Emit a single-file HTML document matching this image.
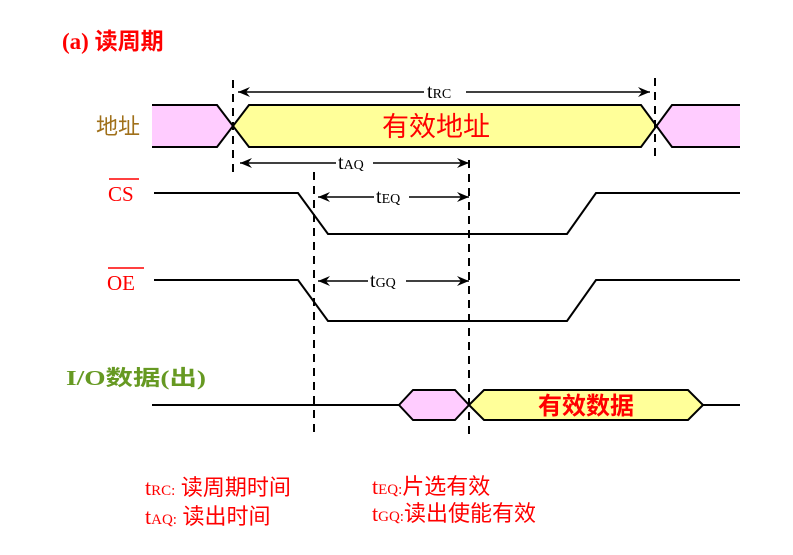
<!DOCTYPE html>
<html><head><meta charset="utf-8"><style>
html,body{margin:0;padding:0;background:#fff;width:793px;height:555px;overflow:hidden}
svg{display:block}
text{font-family:"Liberation Serif","Noto Serif CJK SC","Noto Sans CJK SC",serif}
.cjk{font-family:"Liberation Sans","Noto Sans CJK SC",sans-serif}
</style></head><body>
<svg width="793" height="555" viewBox="0 0 793 555" xmlns="http://www.w3.org/2000/svg">
<defs>
<marker id="ar" viewBox="0 0 12 10" refX="12" refY="5" markerWidth="12" markerHeight="10" orient="auto-start-reverse" markerUnits="userSpaceOnUse">
<path d="M0,0 L12,5 L0,10 L4,5 z" fill="#000"/>
</marker>
</defs>
<text x="62" y="49" font-size="23" font-weight="bold" fill="#ff0000">(a) <tspan class="cjk">读周期</tspan></text>

<polygon points="152,105 217,105 233,126 217,147 152,147" fill="#ffccff"/>
<polygon points="233,126 249,105 641,105 656,126 641,147 249,147" fill="#ffff99"/>
<polygon points="656,126 672,105 740,105 740,147 672,147" fill="#ffccff"/>
<polyline points="152,105 217,105 249,147 641,147 672,105 740,105" fill="none" stroke="#000" stroke-width="2"/>
<polyline points="152,147 217,147 249,105 641,105 672,147 740,147" fill="none" stroke="#000" stroke-width="2"/>
<text x="96" y="134" font-size="22" class="cjk" fill="#a0701a">地址</text>
<text x="436" y="136" font-size="27" class="cjk" fill="#ff0000" text-anchor="middle">有效地址</text>

<g stroke="#000" stroke-width="2" stroke-dasharray="8,6" fill="none">
<line x1="233" y1="80" x2="233" y2="178"/>
<line x1="655" y1="78" x2="655" y2="162"/>
<line x1="314" y1="172" x2="314" y2="432"/>
<line x1="469" y1="160" x2="469" y2="434"/>
</g>

<g stroke="#000" stroke-width="1.5" fill="none">
<line x1="238" y1="92" x2="424" y2="92" marker-start="url(#ar)"/>
<line x1="466" y1="92" x2="650" y2="92" marker-end="url(#ar)"/>
<line x1="240" y1="163" x2="336" y2="163" marker-start="url(#ar)"/>
<line x1="373" y1="163" x2="469" y2="163" marker-end="url(#ar)"/>
<line x1="318" y1="197" x2="374" y2="197" marker-start="url(#ar)"/>
<line x1="409" y1="197" x2="469" y2="197" marker-end="url(#ar)"/>
<line x1="318" y1="281" x2="368" y2="281" marker-start="url(#ar)"/>
<line x1="406" y1="281" x2="469" y2="281" marker-end="url(#ar)"/>
</g>
<text x="427" y="98" font-size="20" fill="#000">t<tspan font-size="14">RC</tspan></text>
<text x="338" y="169" font-size="20" fill="#000">t<tspan font-size="14">AQ</tspan></text>
<text x="376" y="203" font-size="20" fill="#000">t<tspan font-size="14">EQ</tspan></text>
<text x="370" y="287" font-size="20" fill="#000">t<tspan font-size="14">GQ</tspan></text>

<polyline points="154,193 298,193 328,234 567,234 596,193 740,193" fill="none" stroke="#000" stroke-width="2"/>
<polyline points="154,280 298,280 328,321 567,321 596,280 740,280" fill="none" stroke="#000" stroke-width="2"/>
<text x="108" y="201" font-size="21" fill="#ff0000">CS</text>
<line x1="109" y1="179" x2="139" y2="179" stroke="#ff0000" stroke-width="1.5"/>
<text x="107" y="290" font-size="21" fill="#ff0000">OE</text>
<line x1="108" y1="268" x2="144" y2="268" stroke="#ff0000" stroke-width="1.5"/>

<text x="66" y="385" font-size="21" font-weight="bold" fill="#669922" textLength="140" lengthAdjust="spacingAndGlyphs">I/O<tspan class="cjk">数据</tspan>(<tspan class="cjk">出</tspan>)</text>
<polygon points="399,405 413,390 455,390 469,405 455,420 413,420" fill="#ffccff" stroke="#000" stroke-width="2"/>
<polygon points="469,405 484,390 688,390 703,405 688,420 484,420" fill="#ffff99" stroke="#000" stroke-width="2"/>
<line x1="152" y1="405" x2="399" y2="405" stroke="#000" stroke-width="2"/>
<line x1="703" y1="405" x2="740" y2="405" stroke="#000" stroke-width="2"/>
<text x="586" y="414" font-size="24" class="cjk" font-weight="bold" fill="#ff0000" text-anchor="middle">有效数据</text>

<g fill="#ff0000">
<text x="145" y="495" font-size="22">t<tspan font-size="15">RC:</tspan> <tspan class="cjk">读周期时间</tspan></text>
<text x="145" y="524" font-size="22">t<tspan font-size="15">AQ:</tspan> <tspan class="cjk">读出时间</tspan></text>
<text x="372" y="494" font-size="22">t<tspan font-size="15">EQ:</tspan><tspan class="cjk">片选有效</tspan></text>
<text x="372" y="521" font-size="22">t<tspan font-size="15">GQ:</tspan><tspan class="cjk">读出使能有效</tspan></text>
</g>
</svg>
</body></html>
